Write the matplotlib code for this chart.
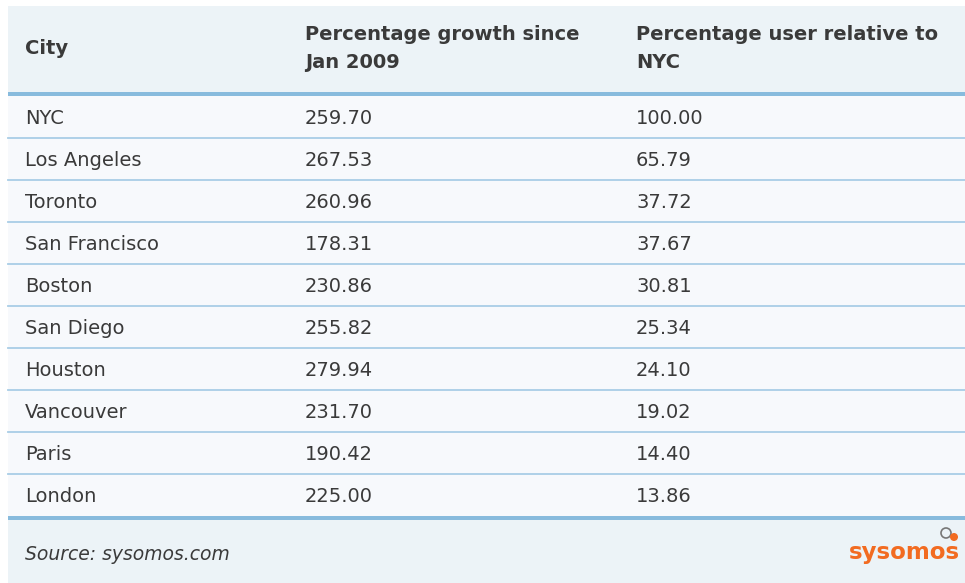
import matplotlib.pyplot as plt
from matplotlib.patches import Rectangle, Circle

# table data
header = ['City', 'Percentage growth since\nJan 2009', 'Percentage user relative to\nNYC']
cities = ['NYC', 'Los Angeles', 'Toronto', 'San Francisco', 'Boston',
          'San Diego', 'Houston', 'Vancouver', 'Paris', 'London']
growth = [259.70, 267.53, 260.96, 178.31, 230.86, 255.82, 279.94, 231.70, 190.42, 225.00]
relative = [100.00, 65.79, 37.72, 37.67, 30.81, 25.34, 24.10, 19.02, 14.40, 13.86]
source = 'Source: sysomos.com'

# layout (pixels)
W, H = 965, 583
left, right = 8, 965
top = 6
head_h = 86
thick = 4
row_h = 42
col_x = [25, 305, 636]

head_bg = '#ecf3f7'
row_bg = '#f7f9fc'
thick_c = '#88bbdd'
thin_c = '#a9cde6'
txt_c = '#3a3a3a'

fig = plt.figure(figsize=(W / 100, H / 100), dpi=100)
ax = fig.add_axes([0, 0, 1, 1])
ax.set_xlim(0, W)
ax.set_ylim(H, 0)
ax.axis('off')

# header band
ax.add_patch(Rectangle((left, top), right - left, head_h, color=head_bg, lw=0))
ax.text(col_x[0], top + head_h / 2, header[0], fontsize=14, fontweight='bold',
        color=txt_c, va='center', ha='left')
for x, lab in zip(col_x[1:], header[1:]):
    ax.text(x, top + head_h / 2 - 1, lab, fontsize=14, fontweight='bold', color=txt_c,
            va='center', ha='left', linespacing=1.6)

y0 = top + head_h
ax.add_patch(Rectangle((left, y0), right - left, thick, color=thick_c, lw=0))
y0 += thick

# body rows
n = len(cities)
ax.add_patch(Rectangle((left, y0), right - left, n * row_h, color=row_bg, lw=0))
for i, (c, g, r) in enumerate(zip(cities, growth, relative)):
    yc = y0 + i * row_h + row_h / 2 + 1
    for x, s in zip(col_x, [c, f'{g:.2f}', f'{r:.2f}']):
        ax.text(x, yc, s, fontsize=14, color=txt_c, va='center', ha='left')
    if i < n - 1:
        ax.plot([left, right], [y0 + (i + 1) * row_h] * 2, color=thin_c, lw=1.3)

y1 = y0 + n * row_h
ax.add_patch(Rectangle((left, y1), right - left, thick, color=thick_c, lw=0))
y1 += thick

# footer
ax.add_patch(Rectangle((left, y1), right - left, H - y1, color=head_bg, lw=0))
ax.text(col_x[0], y1 + 35, source, fontsize=13.5, style='italic', color=txt_c,
        va='center', ha='left')
ax.text(960, y1 + 33, 'sysomos', fontsize=16.5, fontweight='bold', color='#f26b21',
        va='center', ha='right')
# little speech-bubble logo
ax.add_patch(Circle((946, y1 + 13), 5, fill=False, ec='#777777', lw=1.2))
ax.add_patch(Circle((954, y1 + 17), 4, color='#f26b21', lw=0))

fig.savefig('out.png', dpi=100)
